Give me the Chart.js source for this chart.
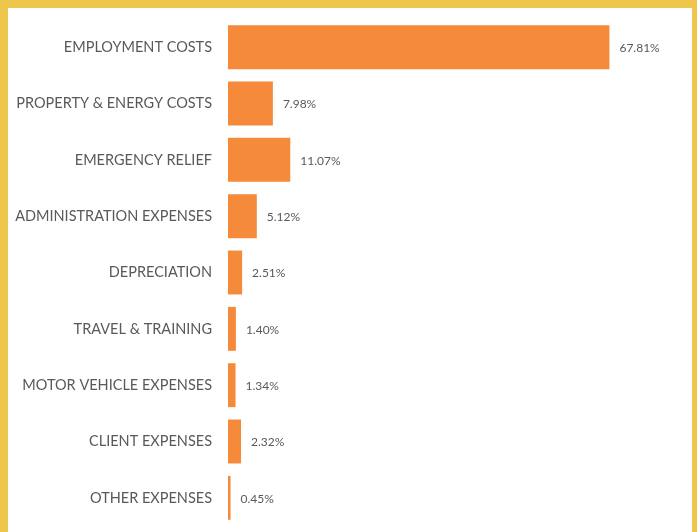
<!DOCTYPE html>
<html>
<head>
<meta charset="utf-8">
<script src="https://cdn.jsdelivr.net/npm/chart.js@4/dist/chart.umd.min.js"></script>
<style>
    html, body { margin: 0; padding: 0; }
    body { width: 697px; height: 532px; background: #EEC64B; overflow: hidden; position: relative; }
    #panel { position: absolute; left: 8px; top: 8px; width: 684px; height: 524px; background: #fff; }
    #grafico { display: block; width: 684px; height: 524px; }
</style>
</head>
<body>
<div id="panel"><canvas id="grafico" width="684" height="524"></canvas></div>
<script>
// Datos del gráfico
const categorias = [
    'EMPLOYMENT COSTS',
    'PROPERTY & ENERGY COSTS',
    'EMERGENCY RELIEF',
    'ADMINISTRATION EXPENSES',
    'DEPRECIATION',
    'TRAVEL & TRAINING',
    'MOTOR VEHICLE EXPENSES',
    'CLIENT EXPENSES',
    'OTHER EXPENSES'
];
const porcentajes = [67.81, 7.98, 11.07, 5.12, 2.51, 1.40, 1.34, 2.32, 0.45];

const COLORES = {
    barra: '#F48A3A',
    texto: '#595959'
};

// Etiquetas de valor al final de cada barra
const etiquetasValor = {
    id: 'etiquetasValor',
    afterDatasetsDraw(chart) {
        const ctx = chart.ctx;
        const meta = chart.getDatasetMeta(0);
        ctx.save();
        ctx.font = '12px Lato, "Liberation Sans", sans-serif';
        ctx.fillStyle = COLORES.texto;
        ctx.textAlign = 'left';
        ctx.textBaseline = 'middle';
        meta.data.forEach(function(barra, i) {
            ctx.fillText(porcentajes[i].toFixed(2) + '%', barra.x + 10, barra.y + 1);
        });
        ctx.restore();
    }
};

const ctx = document.getElementById('grafico');

new Chart(ctx, {
    type: 'bar',
    data: {
        labels: categorias,
        datasets: [{
            data: porcentajes,
            backgroundColor: COLORES.barra,
            borderWidth: 0,
            categoryPercentage: 1.0,
            barPercentage: 0.78
        }]
    },
    options: {
        indexAxis: 'y',
        responsive: false,
        maintainAspectRatio: false,
        animation: false,
        layout: { padding: { left: 0, right: 14, top: 11, bottom: 6 } },
        plugins: {
            legend: { display: false },
            tooltip: { enabled: false }
        },
        scales: {
            x: {
                display: false,
                min: 0,
                max: 80
            },
            y: {
                grid: { display: false, drawTicks: false },
                border: { display: false },
                ticks: {
                    color: COLORES.texto,
                    font: { family: 'Lato, "Liberation Sans", sans-serif', size: 14.5 },
                    padding: 16,
                    autoSkip: false
                },
                afterFit: function(scale) {
                    scale.width = 220;
                    scale.paddingTop = 0;
                    scale.paddingBottom = 0;
                }
            }
        }
    },
    plugins: [etiquetasValor]
});
</script>
</body>
</html>
